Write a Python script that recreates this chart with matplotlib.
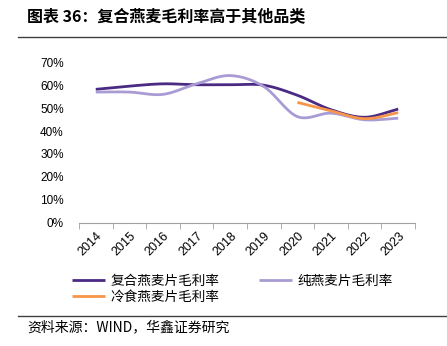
import numpy as np
import matplotlib
matplotlib.use("Agg")
import matplotlib.pyplot as plt
from matplotlib.ticker import FixedLocator, PercentFormatter

years = ["2014", "2015", "2016", "2017", "2018", "2019", "2020", "2021", "2022", "2023"]
compound = [58.2, 59.6, 60.6, 60.2, 60.2, 60.0, 55.6, 49.3, 46.0, 49.6]
pure = [57.0, 57.0, 56.0, 60.6, 64.2, 59.4, 46.3, 47.8, 44.9, 45.6]
cold_years = ["2020", "2021", "2022", "2023"]
cold = [52.5, 48.8, 45.4, 48.0]

series_names = ["复合燕麦片毛利率", "纯燕麦片毛利率", "冷食燕麦片毛利率"]
colors = ["#4A2A83", "#A99BD4", "#F7964A"]

title = "图表 36：复合燕麦毛利率高于其他品类"
source = "资料来源：WIND，华鑫证券研究"

cjk = ["Noto Sans CJK SC", "DejaVu Sans"]


def smooth(x, y, n=20):
    x = np.asarray(x, float)
    y = np.asarray(y, float)
    if len(x) < 3:
        return x, y
    px = np.concatenate([[2 * x[0] - x[1]], x, [2 * x[-1] - x[-2]]])
    py = np.concatenate([[2 * y[0] - y[1]], y, [2 * y[-1] - y[-2]]])
    xs, ys = [], []
    t = np.linspace(0, 1, n, endpoint=False)
    for i in range(1, len(px) - 2):
        for arr, out in ((px, xs), (py, ys)):
            p0, p1, p2, p3 = arr[i - 1], arr[i], arr[i + 1], arr[i + 2]
            v = 0.5 * ((2 * p1) + (-p0 + p2) * t + (2 * p0 - 5 * p1 + 4 * p2 - p3) * t ** 2
                       + (-p0 + 3 * p1 - 3 * p2 + p3) * t ** 3)
            out.extend(v)
    xs.append(x[-1])
    ys.append(y[-1])
    return np.array(xs), np.array(ys)


fig = plt.figure(figsize=(4.47, 3.46), dpi=100)
ax = fig.add_axes([0.1767, 0.3564, 0.7517, 0.4636])

xi = np.arange(len(years))
xc = np.array([years.index(y) for y in cold_years])
handles = []
for xv, yv, c, name in ((xi, compound, colors[0], series_names[0]),
                        (xi, pure, colors[1], series_names[1]),
                        (xc, cold, colors[2], series_names[2])):
    sx, sy = smooth(xv, yv)
    h, = ax.plot(sx, sy, color=c, lw=2.0, solid_capstyle="butt", label=name)
    handles.append(h)

ax.set_xlim(-0.5, len(years) - 0.5)
ax.set_ylim(0, 70)
ax.yaxis.set_major_locator(FixedLocator(np.arange(0, 71, 10)))
ax.yaxis.set_major_formatter(PercentFormatter(decimals=0))
ax.set_xticks(xi)
ax.set_xticklabels(years, rotation=45, ha="right", rotation_mode="anchor",
                   fontsize=9, family="Liberation Sans")
ax.set_xticks(np.arange(-0.5, len(years), 1.0), minor=True)
ax.tick_params(axis="x", which="major", length=0, pad=5)
ax.tick_params(axis="x", which="minor", length=4, color="#A0A0A0", direction="out")
ax.tick_params(axis="y", length=0, pad=11, labelsize=8.5)
for lab in ax.get_yticklabels():
    lab.set_family("Liberation Sans")
for s in ("left", "right", "top"):
    ax.spines[s].set_visible(False)
ax.spines["bottom"].set_color("#A0A0A0")
ax.spines["bottom"].set_linewidth(0.8)

leg = fig.legend(handles=[handles[0], handles[2], handles[1]],
                 labels=[series_names[0], series_names[2], series_names[1]],
                 ncol=2, loc="upper left", bbox_to_anchor=(0.15, 0.225),
                 frameon=False, prop={"family": cjk, "size": 9.8},
                 handlelength=2.4, handletextpad=0.4, columnspacing=2.9,
                 labelspacing=0.15, borderaxespad=0)

fig.text(0.06, 0.952, title, family=cjk, fontsize=11.5, fontweight="bold",
         va="center", ha="left")
fig.add_artist(plt.Line2D([0.04, 1.0], [0.893, 0.893], color="#404040", lw=1.0))
fig.add_artist(plt.Line2D([0.04, 1.0], [0.087, 0.087], color="#404040", lw=1.0))
fig.text(0.062, 0.055, source, family=cjk, fontsize=10, va="center", ha="left")

fig.savefig("out.png", dpi=100)
